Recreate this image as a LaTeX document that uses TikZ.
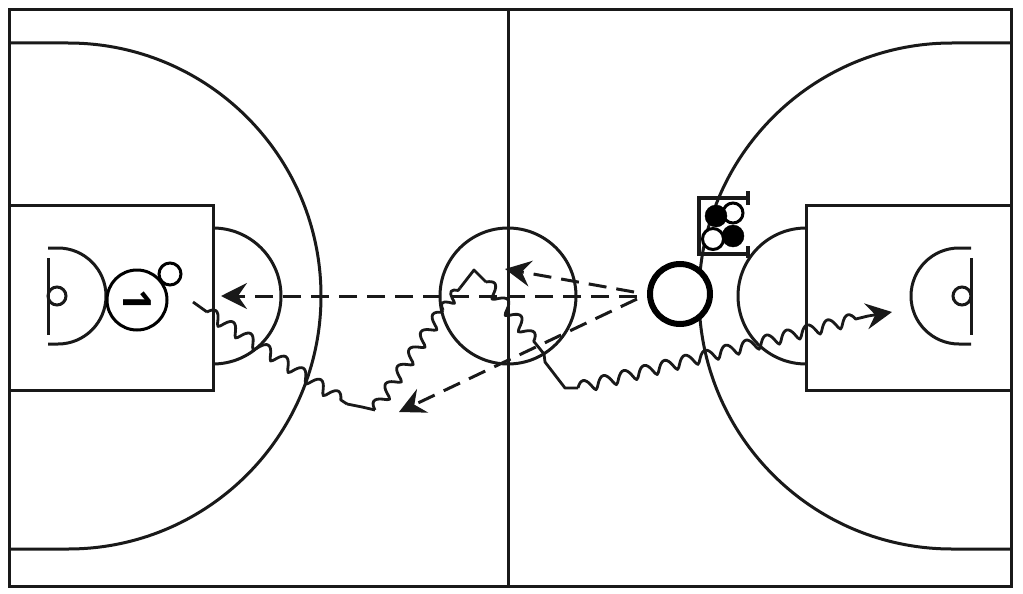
\documentclass[tikz,border=0pt]{standalone}
\usepackage{fontspec}
\setmainfont{Open Sans}
\usetikzlibrary{arrows.meta,decorations.pathmorphing}
\tikzset{
  court/.style={draw=black!90,line width=3pt},
  wig/.style={draw=black!90,line width=2.8pt,line join=round,decorate,decoration={coil,aspect=0.22,amplitude=6pt,segment length=21pt,pre length=0pt,post length=0pt}},
  plain/.style={draw=black!90,line width=2.8pt,line join=round},
  pass/.style={draw=black!90,line width=3pt,dash pattern=on 18pt off 10pt},
  tip/.style={-{Stealth[length=26pt,width=26pt,inset=9pt]}},
  disc/.style={circle,draw=black,line width=3pt,fill=white,inner sep=0pt,minimum size=#1},
  blk/.style={circle,fill=black,draw=black,inner sep=0pt,minimum size=#1}
}
\begin{document}
\begin{tikzpicture}[x=1pt,y=-1pt]
\useasboundingbox (0,0) rectangle (1023,594);
\fill[white] (0,0) rectangle (1023,594);
% court
\draw[court] (9,10) rectangle (1011,586);
\draw[court] (508,10) -- (508,586);
\draw[court] (9,43) -- (68,43) arc[start angle=-90,end angle=90,radius=253] -- (9,549);
\draw[court] (1011,43) -- (952,43) arc[start angle=270,end angle=90,radius=253] -- (1011,549);
\draw[court] (9,205) rectangle (213,390);
\draw[court] (1011,205) rectangle (806,390);
\draw[court] (213,228) arc[start angle=-90,end angle=90,radius=68];
\draw[court] (806,228) arc[start angle=270,end angle=90,radius=68];
\draw[court] (508,296) circle[radius=68];
\draw[court] (48,248) -- (58,248) arc[start angle=-90,end angle=90,radius=48] -- (48,344);
\draw[court] (971,248) -- (959,248) arc[start angle=270,end angle=90,radius=48] -- (971,344);
\draw[court] (48,258) -- (48,335);
\draw[court] (971,258) -- (971,335);
\draw[court] (57,296) circle[radius=9];
\draw[court] (962,296) circle[radius=9];
% passes
\coordinate (passa) at (637,296);
\coordinate (passb) at (634,292);
\coordinate (passc) at (637,299);
\coordinate (ta) at (221,296);
\coordinate (tb) at (505,269);
\coordinate (tc) at (399,412);
\draw[pass,tip] (passa) -- (ta);
\draw[pass,tip] (passb) -- (tb);
\draw[pass,tip] (passc) -- (tc);
% dribble
\coordinate (d0) at (193,302);
\coordinate (d1) at (207,312);
\coordinate (d2) at (347,404);
\coordinate (d3) at (362,407);
\coordinate (d4) at (375,410);
\coordinate (d5) at (443,310);
\coordinate (d6) at (460,288);
\coordinate (d7) at (474,270);
\coordinate (d8) at (486,282);
\coordinate (d9) at (544,354);
\coordinate (d10) at (545,362);
\coordinate (d11) at (565,388);
\coordinate (d12) at (578,388);
\coordinate (d13) at (868,316);
\coordinate (d14) at (892,312);
\draw[plain] (d0) -- (d1);
\draw[wig] (d1) -- (d2);
\draw[plain] (d2) -- (d3) -- (d4);
\draw[wig] (d4) -- (d5);
\draw[wig,decoration={segment length=15pt,amplitude=5pt}] (d5) -- (d6);
\draw[plain] (d6) -- (d7) -- (d8);
\draw[wig] (d8) -- (d9);
\draw[plain] (d9) -- (d10) -- (d11) -- (d12);
\draw[wig] (d12) -- (d13);
\draw[plain,tip] (d13) -- (d14);
% players
\node[disc=60pt] (p1) at (137,300) {};
\node[rotate=-90,font=\bfseries\fontsize{39pt}{39pt}\selectfont,inner sep=0pt] (p1t) at (137,301) {1};
\node[disc=22pt] (ball) at (170,274) {};
\node[circle,draw=black,line width=6pt,fill=white,inner sep=0pt,minimum size=60pt] (d) at (680,294) {};
% screen
\coordinate (s1) at (748,198);
\coordinate (s2) at (699,198);
\coordinate (s3) at (699,254);
\coordinate (s4) at (748,254);
\draw[court,line width=3.4pt] (s1) -- (s2) -- (s3) -- (s4);
\draw[court,line width=3.4pt] (748,191) -- (748,205);
\draw[court,line width=3.4pt] (748,246) -- (748,258);
\node[disc=20pt] (w1) at (733,213) {};
\node[blk=22pt] (b1) at (716,216) {};
\node[disc=21pt] (w2) at (713,239) {};
\node[blk=22pt] (b2) at (733,236) {};
\end{tikzpicture}
\end{document}
